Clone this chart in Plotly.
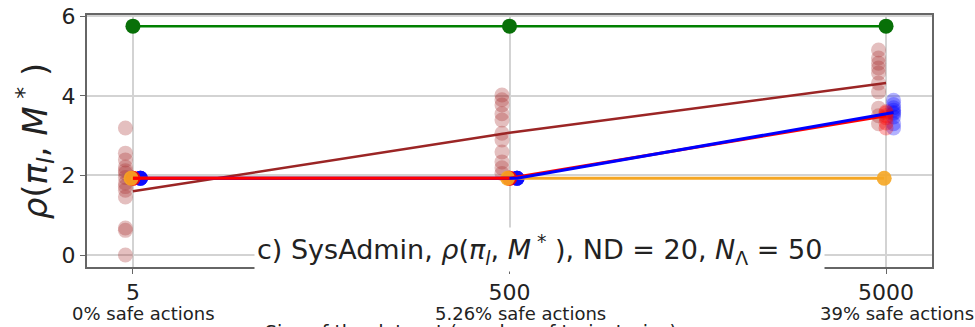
import plotly.graph_objects as go

# ---- data ----
categories = ["5", "500", "5000"]
sublabels = ["0% safe actions", "5.26% safe actions", "39% safe actions"]
yticks = [0, 2, 4, 6]

green_mean = [5.75, 5.75, 5.75]
orange_mean = [1.93, 1.93, 1.93]
blue_mean = [1.93, 1.93, 3.58]
red_mean = [1.93, 1.93, 3.50]
brown_mean = [1.60, 3.07, 4.32]

brown_pts = [
    [3.19, 2.56, 2.39, 2.21, 2.12, 2.06, 1.95, 1.81, 1.72, 1.63, 1.46, 0.68, 0.62, 0.0],
    [4.02, 3.9, 3.77, 3.55, 3.39, 3.06, 2.89, 2.59, 2.34, 2.19, 2.05],
    [5.15, 4.95, 4.82, 4.7, 4.57, 4.32, 4.1, 3.69, 3.5, 3.3],
]
blue_pts = [
    [1.93, 1.93, 1.93, 1.93, 1.93, 1.93, 1.93, 1.93],
    [1.93, 1.93, 1.93, 1.93, 1.93, 1.93, 1.93, 1.93],
    [3.89, 3.78, 3.7, 3.64, 3.58, 3.55, 3.47, 3.3, 3.19],
]
red_pts = [
    [1.93, 1.93, 1.93, 1.93, 1.93, 1.93],
    [1.93, 1.93, 1.93, 1.93, 1.93, 1.93],
    [3.6, 3.57, 3.5, 3.45, 3.32, 3.19],
]

# ---- styling constants ----
BROWN = "#A52A2A"
FONT = "DejaVu Sans"
pos = list(range(len(categories)))


def scatter_pts(pts, offset, color, opacity, size=15):
    xs, ys = [], []
    for i, vals in enumerate(pts):
        xs += [pos[i] + offset] * len(vals)
        ys += vals
    return go.Scatter(x=xs, y=ys, mode="markers",
                      marker=dict(size=size, color=color, opacity=opacity, line=dict(width=0)),
                      showlegend=False, hoverinfo="skip")


fig = go.Figure()

# green
fig.add_trace(go.Scatter(x=pos, y=green_mean, mode="lines+markers",
                         line=dict(color="#008000", width=2.5),
                         marker=dict(size=15, color="#087008"), showlegend=False))
# brown
fig.add_trace(scatter_pts(brown_pts, -0.02, BROWN, 0.3))
# point clouds
fig.add_trace(scatter_pts(blue_pts, 0.02, "#0000FF", 0.3))
fig.add_trace(scatter_pts(red_pts, 0.0, "#FF0000", 0.3))
# orange
fig.add_trace(go.Scatter(x=[p - 0.005 for p in pos], y=orange_mean, mode="lines+markers",
                         line=dict(color="#F5A623", width=3),
                         marker=dict(size=15, color="#F5A623", opacity=0.9), showlegend=False))
# lines
fig.add_trace(go.Scatter(x=pos, y=brown_mean, mode="lines",
                         line=dict(color="#9B2525", width=2.5), showlegend=False))
fig.add_trace(go.Scatter(x=pos, y=red_mean, mode="lines",
                         line=dict(color="#FF0000", width=3), showlegend=False))
fig.add_trace(go.Scatter(x=[p + 0.02 for p in pos], y=blue_mean, mode="lines",
                         line=dict(color="#0000FF", width=3), showlegend=False))
fig.add_trace(go.Scatter(x=pos[:2], y=red_mean[:2], mode="lines",
                         line=dict(color="#FF0000", width=3), showlegend=False))

fig.update_layout(
    width=975, height=327,
    margin=dict(l=87, r=43, t=15, b=60),
    paper_bgcolor="white", plot_bgcolor="white",
    font=dict(family=FONT, color="#222"),
    showlegend=False,
    xaxis=dict(range=[-0.122, 2.122], tickmode="array", tickvals=pos, ticktext=categories,
               tickfont=dict(size=22, family=FONT, color="#222"),
               showgrid=True, gridcolor="#d3d3d3", gridwidth=1.5,
               showline=True, linecolor="#666", linewidth=2, mirror=True,
               ticks="outside", ticklen=5, tickcolor="#666", zeroline=False,
               automargin=False),
    yaxis=dict(range=[-0.3, 6.03], tickmode="array", tickvals=yticks,
               ticktext=[str(v) for v in yticks],
               tickfont=dict(size=22, family=FONT, color="#222"),
               showgrid=True, gridcolor="#d3d3d3", gridwidth=1.5,
               showline=True, linecolor="#666", linewidth=2, mirror=True,
               ticks="outside", ticklen=5, tickcolor="#666", zeroline=False,
               automargin=False,
               title=dict(text="<i>ρ</i>(<i>π<sub>l</sub></i>, <i>M</i><sup> *</sup> )",
                          font=dict(size=34, family=FONT, color="#222"), standoff=4)),
)

for p, s in zip(pos, sublabels):
    fig.add_annotation(xref="x", yref="paper", x=p, y=-0.186, xanchor="center", yanchor="middle",
                       xshift=11, text=s, showarrow=False,
                       font=dict(size=18, family=FONT, color="#222"))

fig.add_annotation(
    xref="paper", yref="paper", x=0.536, y=0.07, xanchor="center", yanchor="middle",
    text="c) SysAdmin, <i>ρ</i>(<i>π<sub>l</sub></i>, <i>M</i><sup> *</sup> ), ND = 20, <i>N</i><sub>Λ</sub> = 50",
    showarrow=False, bgcolor="white", borderpad=2,
    font=dict(size=27, family=FONT, color="#222"),
)

fig.add_annotation(
    xref="paper", yref="paper", x=0.454, y=-0.208, xanchor="center", yanchor="top",
    text="Size of the dataset (number of trajectories)",
    showarrow=False, font=dict(size=19, family=FONT, color="#222"),
)

fig.write_html("out.html")
